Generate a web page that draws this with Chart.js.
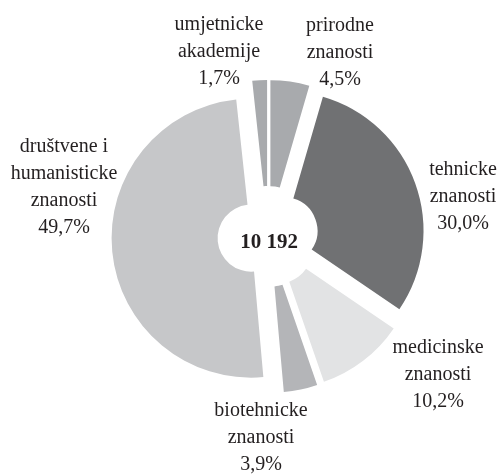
<!DOCTYPE html>
<html><head><meta charset="utf-8">
<script src="https://cdn.jsdelivr.net/npm/chart.js@4/dist/chart.umd.min.js"></script>
<style>html,body{margin:0;padding:0;background:#fff}#wrap{width:498px;height:476px;position:relative}</style>
</head><body><div id="wrap"><canvas id="c"></canvas></div>
<script>
const categories = [
  ["prirodne", "znanosti"],
  ["tehnicke", "znanosti"],
  ["medicinske", "znanosti"],
  ["biotehnicke", "znanosti"],
  ["društvene i", "humanisticke", "znanosti"],
  ["umjetnicke", "akademije"]
];
const shares = [4.5, 30.0, 10.2, 3.9, 49.7, 1.7];
const shareLabels = ["4,5%", "30,0%", "10,2%", "3,9%", "49,7%", "1,7%"];
const totalLabel = "10 192";

const sliceColors = ["#a8aaad", "#707173", "#e2e3e4", "#b4b5b8", "#c6c7c9", "#a8aaad"];
const labelOffsets = [[72, -184], [195, -40], [170, 138.5], [-7, 201.5], [-204, -49.5], [-49, -184.5]];
const explode = 17;

// pull every slice outward along its bisector (pure translation, like an exploded pie)
const explodePlugin = {
  id: 'explode',
  afterDatasetUpdate(chart, args) {
    const meta = chart.getDatasetMeta(args.index);
    meta.data.forEach(a => {
      if (a._cx === undefined) { a._cx = a.x; a._cy = a.y; }
      const mid = (a.startAngle + a.endAngle) / 2;
      a.x = a._cx + Math.cos(mid) * explode;
      a.y = a._cy + Math.sin(mid) * explode;
    });
  }
};

const labelPlugin = {
  id: 'labels',
  afterDatasetsDraw(chart) {
    const ctx = chart.ctx;
    const area = chart.chartArea;
    const cx = (area.left + area.right) / 2, cy = (area.top + area.bottom) / 2;
    ctx.save();
    ctx.fillStyle = '#231f20';
    ctx.textAlign = 'center';
    ctx.textBaseline = 'middle';
    ctx.font = '20px "Liberation Serif", "Times New Roman", serif';
    const lh = 27;
    categories.forEach((lines, i) => {
      const all = lines.concat([shareLabels[i]]);
      const x = cx + labelOffsets[i][0];
      const y0 = cy + labelOffsets[i][1] - (all.length - 1) * lh / 2;
      all.forEach((t, j) => ctx.fillText(t, x, y0 + j * lh));
    });
    ctx.font = 'bold 21px "Liberation Serif", "Times New Roman", serif';
    ctx.fillText(totalLabel, cx + 1, cy + 6);
    ctx.restore();
  }
};

new Chart(document.getElementById('c'), {
  type: 'doughnut',
  data: {
    labels: categories.map(c => c.join(' ')),
    datasets: [{
      data: shares,
      backgroundColor: sliceColors,
      borderWidth: 0,
      offset: 0,
      hoverOffset: 0
    }]
  },
  options: {
    responsive: true,
    maintainAspectRatio: false,
    animation: false,
    cutout: '24%',
    events: [],
    layout: { padding: { top: 97, bottom: 100, left: 38, right: 0 } },
    plugins: { legend: { display: false }, tooltip: { enabled: false } }
  },
  plugins: [explodePlugin, labelPlugin]
});
</script>
</body></html>
